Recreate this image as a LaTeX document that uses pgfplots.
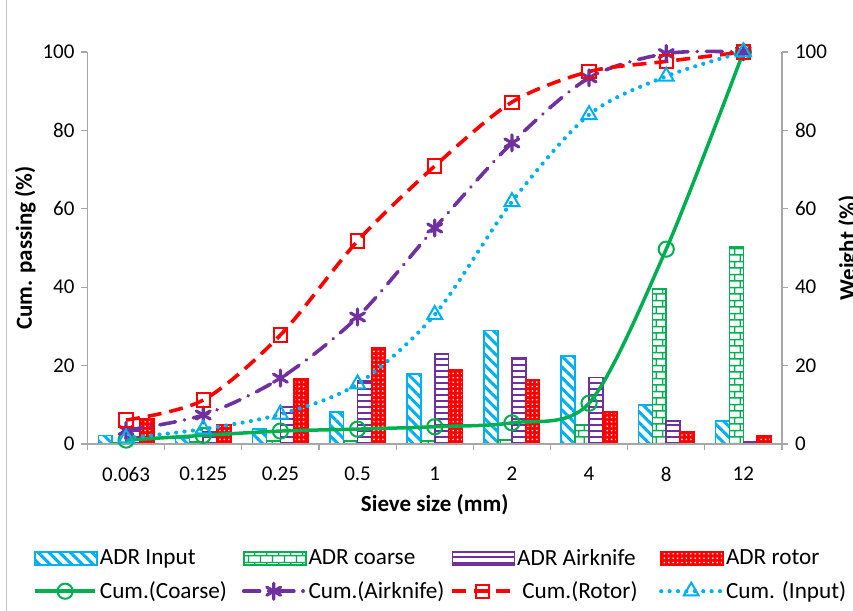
\documentclass[border=0pt]{standalone}
\usepackage{fontspec}
\setmainfont{Carlito}
\usepackage{pgfplots}
\usepackage{pgfplotstable}
\pgfplotsset{compat=1.18}
\usetikzlibrary{patterns,patterns.meta}

\definecolor{cInput}{HTML}{00B0F0}
\definecolor{cCoarse}{HTML}{00B050}
\definecolor{cAir}{HTML}{7030A0}
\definecolor{cRotor}{HTML}{FF0000}
\definecolor{axgray}{HTML}{A6A6A6}

\tikzdeclarepattern{
  name=Bricks,
  type=uncolored,
  bounding box={(0pt,0pt) and (6pt,6.6pt)},
  tile size={(6pt,6.6pt)},
  code={
    \draw[line width=0.7pt] (-1pt,1.65pt) -- (7pt,1.65pt) (-1pt,4.95pt) -- (7pt,4.95pt)
      (1.5pt,1.65pt) -- (1.5pt,4.95pt) (4.5pt,4.95pt) -- (4.5pt,7pt) (4.5pt,-0.4pt) -- (4.5pt,1.65pt);
  }
}

% weight per fraction (right axis) and cumulative passing (left axis)
\pgfplotstableread{
x input coarse air rotor cc ca cr ci
0 2.2 0.3 3.5 6.5 1.0 3.5 6.1 1.5
1 1.5 0.5 3.0 4.8 2.2 7.4 11.2 3.8
2 3.8 0.8 9.5 16.6 3.3 16.8 27.8 7.6
3 8.1 0.8 16.0 24.5 3.8 32.4 51.8 15.3
4 17.9 0.8 23.0 19.0 4.4 55.1 70.9 33.0
5 29.0 1.0 22.0 16.3 5.4 76.8 87.2 61.8
6 22.4 4.9 17.0 8.1 10.4 93.4 95.0 84.0
7 9.9 39.5 5.9 3.0 49.7 99.6 97.6 93.8
8 5.8 50.3 0.5 2.0 100 100 100 100
}\sieve

\pgfplotsset{
  base/.style={scale only axis, width=347.25pt, height=196pt,
    at={(43.75pt,83.5pt)}, anchor=south west,
    xmin=-0.5, xmax=8.5, ymin=0, ymax=100, ytick={0,20,...,100},
    tick align=outside, major tick length=3pt, minor tick length=3pt,
    axis line style={axgray, line width=0.6pt},
    tick style={axgray, line width=0.6pt},
    /pgf/number format/assume math mode=true, clip=false},
  barleg/.style={legend image code/.code={\draw[##1] (0pt,-3.3pt) rectangle (31pt,3.3pt);}},
  lineleg/.style={legend image code/.code={\draw[mark repeat=2,mark phase=2,##1] plot coordinates {(0pt,0pt) (15pt,0pt) (30pt,0pt)};}},
}

\begin{document}
\begin{tikzpicture}[font=\fontsize{10.5}{12.6}\selectfont]
\begin{axis}[base, axis y line*=right, axis x line=none, ybar=0pt, bar width=0.18]
  \addplot[draw=cInput, line width=0.8pt, pattern color=cInput, pattern={Lines[angle=-45,distance=3.8pt,line width=1.5pt]}] table[x=x,y=input]{\sieve};
  \addplot[draw=cCoarse, line width=0.8pt, pattern color=cCoarse, pattern=Bricks] table[x=x,y=coarse]{\sieve};
  \addplot[draw=cAir, line width=0.8pt, pattern color=cAir, pattern={Lines[angle=0,distance=3pt,line width=0.7pt]}] table[x=x,y=air]{\sieve};
  \addplot[draw=cRotor, line width=0.8pt, fill=cRotor, postaction={pattern color=white, pattern={Dots[distance=2.2pt,radius=0.45pt]}}] table[x=x,y=rotor]{\sieve};
  \node[rotate=90, anchor=base, font=\fontsize{11.5}{13}\selectfont\bfseries] at (axis description cs:1.1058,0.5) {Weight (\%)};
\end{axis}

\begin{axis}[base, axis y line*=left, axis x line*=bottom,
    xtick={0,...,8}, xticklabels={0.063,0.125,0.25,0.5,1,2,4,8,12},
    major x tick style={draw=none}, minor xtick={-0.5,0.5,...,8.5},
    xticklabel style={yshift=-5pt},
    legend columns=4, legend cell align=left,
    legend style={draw=none, fill=none, at={(axis description cs:-0.0785,-0.262)}, anchor=north west,
      inner sep=0pt, nodes={inner sep=1pt}, row sep=4.5pt, font=\fontsize{11.6}{13.5}\selectfont}]
  \addlegendimage{barleg, draw=cInput, line width=0.8pt, pattern color=cInput, pattern={Lines[angle=-45,distance=3.8pt,line width=1.5pt]}}
  \addlegendentry{\makebox[70pt][l]{ADR Input}}
  \addlegendimage{barleg, draw=cCoarse, line width=0.8pt, pattern color=cCoarse, pattern=Bricks}
  \addlegendentry{\makebox[70pt][l]{ADR coarse}}
  \addlegendimage{barleg, draw=cAir, line width=0.8pt, pattern color=cAir, pattern={Lines[angle=0,distance=3pt,line width=0.7pt]}}
  \addlegendentry{\makebox[70pt][l]{ADR Airknife}}
  \addlegendimage{barleg, draw=cRotor, line width=0.8pt, fill=cRotor, postaction={pattern color=white, pattern={Dots[distance=2.2pt,radius=0.45pt]}}}
  \addlegendentry{ADR rotor}

  \addplot[lineleg, cCoarse, line width=1.75pt, smooth, mark=o, mark size=3.8pt, mark options={solid, line width=1pt}] table[x=x,y=cc]{\sieve};
  \addlegendentry{\makebox[70pt][l]{Cum.(Coarse)}}
  \addplot[lineleg, cAir, line width=1.8pt, smooth, line cap=round, dash pattern=on 8pt off 4.5pt on 0.1pt off 4.5pt, mark=asterisk, mark size=4pt, mark options={solid, line width=1.6pt}] table[x=x,y=ca]{\sieve};
  \addlegendentry{\makebox[70pt][l]{Cum.(Airknife)}}
  \addplot[lineleg, cRotor, line width=1.8pt, smooth, dash pattern=on 7pt off 4pt, mark=square, mark size=3.3pt, mark options={solid, line width=1pt}] table[x=x,y=cr]{\sieve};
  \addlegendentry{\makebox[70pt][l]{\ Cum.(Rotor)}}
  \addplot[lineleg, cInput, line width=2.1pt, smooth, line cap=round, dash pattern=on 0pt off 4.2pt, mark=triangle, mark size=4.3pt, mark options={solid, line cap=butt, line width=1pt}] table[x=x,y=ci]{\sieve};
  \addlegendentry{Cum. (Input)}

  \node[rotate=90, anchor=base, font=\fontsize{11.5}{13}\selectfont\bfseries] at (axis description cs:-0.0802,0.5) {Cum. passing (\%)};
  \node[anchor=base, font=\fontsize{11.5}{13}\selectfont\bfseries] at (axis description cs:0.5,-0.172) {Sieve size (mm)};
\end{axis}
\draw[axgray!70, line width=0.5pt] (3pt,0pt) -- (3pt,305.5pt);
\pgfresetboundingbox
\useasboundingbox (0,0) rectangle (426.5pt,305.5pt);
\end{tikzpicture}
\end{document}
